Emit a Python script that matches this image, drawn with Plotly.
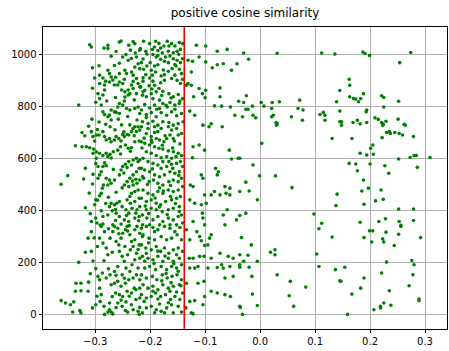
import plotly.graph_objects as go

title_text = "positive cosine similarity"
threshold = -0.138
x_ticks = [-0.3, -0.2, -0.1, 0.0, 0.1, 0.2, 0.3]
y_ticks = [0, 200, 400, 600, 800, 1000]

# (cosine similarity, index) pairs
upper_band = [
    (-0.310,1038),(-0.307,1029),(-0.277,1036),(-0.277,1023),(-0.256,1048),(-0.253,1052),(-0.231,1050),(-0.228,1042),
    (-0.239,1036),(-0.236,1017),(-0.219,1017),(-0.271,994),(-0.250,991),(-0.240,978),(-0.234,985),(-0.225,991),
    (-0.222,965),(-0.228,952),(-0.219,946),(-0.246,940),(-0.243,927),(-0.277,940),(-0.274,927),(-0.256,927),
    (-0.234,933),(-0.231,921),(-0.301,910),(-0.292,921),(-0.286,910),(-0.271,914),(-0.268,902),(-0.274,895),
    (-0.265,883),(-0.292,889),(-0.283,883),(-0.256,895),(-0.250,889),(-0.259,883),(-0.225,908),(-0.222,889),
    (-0.234,883),(-0.219,876),(-0.252,864),(-0.246,857),(-0.240,864),(-0.231,870),(-0.240,845),(-0.237,850),
    (-0.246,837),(-0.225,850),(-0.283,864),(-0.286,845),(-0.295,850),(-0.292,831),(-0.289,806),(-0.286,780),
    (-0.283,770),(-0.330,806),(-0.256,812),(-0.250,806),(-0.259,799),(-0.243,793),(-0.271,787),(-0.265,780),
    (-0.274,768),(-0.256,774),(-0.262,778),(-0.237,787),(-0.228,793),(-0.222,799),(-0.219,774),(-0.271,749),
    (-0.237,730),(-0.252,730),
    (-0.212,1051),(-0.218,1023),(-0.208,1013),(-0.201,1042),(-0.196,1020),(-0.190,1051),(-0.192,1029),(-0.186,1016),
    (-0.195,1000),(-0.189,991),(-0.181,1025),(-0.175,1033),(-0.178,1007),(-0.172,991),(-0.166,1033),(-0.161,1042),
    (-0.155,1033),(-0.147,1046),(-0.141,1042),(-0.167,1013),(-0.158,1007),(-0.151,1013),(-0.145,1020),(-0.141,984),
    (-0.145,969),(-0.151,978),(-0.158,984),(-0.164,995),(-0.167,969),(-0.174,974),(-0.181,982),(-0.186,961),
    (-0.192,956),(-0.200,969),(-0.206,956),(-0.212,944),(-0.216,969),(-0.208,923),(-0.201,910),(-0.195,898),
    (-0.213,898),(-0.217,876),(-0.210,863),(-0.202,880),(-0.192,882),(-0.184,870),(-0.180,918),(-0.174,923),
    (-0.167,936),(-0.160,946),(-0.153,956),(-0.147,944),(-0.143,927),(-0.155,921),(-0.161,908),(-0.151,901),
    (-0.145,889),(-0.141,905),(-0.174,901),(-0.181,892),(-0.190,933),(-0.198,940),(-0.214,844),(-0.207,838),
    (-0.198,850),(-0.189,857),(-0.177,859),(-0.166,850),(-0.158,838),(-0.149,847),(-0.141,831),(-0.147,812),
    (-0.155,806),(-0.164,816),(-0.169,799),(-0.177,812),(-0.183,793),(-0.192,806),(-0.201,795),(-0.210,808),
    (-0.216,787),(-0.207,770),(-0.198,777),(-0.189,761),(-0.180,777),(-0.170,767),(-0.161,780),(-0.152,765),
    (-0.143,774),(-0.140,742),(-0.149,735),(-0.158,729),(-0.166,739),(-0.177,742),(-0.186,729),(-0.195,744),
    (-0.204,735),(-0.214,742),(-0.183,825),(-0.195,831),
]

middle_band = [
    (-0.324,701),(-0.319,688),(-0.307,704),(-0.304,685),(-0.301,668),(-0.298,691),(-0.293,691),(-0.286,704),
    (-0.283,685),(-0.280,672),(-0.273,723),(-0.274,678),(-0.271,665),(-0.265,672),(-0.262,685),(-0.257,678),
    (-0.253,668),(-0.250,693),(-0.247,685),(-0.242,693),(-0.239,691),(-0.234,704),(-0.231,716),(-0.228,723),
    (-0.225,704),(-0.222,723),(-0.219,710),(-0.220,668),(-0.228,665),(-0.234,642),(-0.240,640),(-0.245,653),
    (-0.254,646),(-0.259,633),(-0.267,627),(-0.273,617),(-0.280,621),(-0.277,608),(-0.286,612),(-0.292,621),
    (-0.298,627),(-0.304,621),(-0.336,650),(-0.324,646),(-0.316,646),(-0.310,642),(-0.303,637),(-0.298,602),
    (-0.299,582),(-0.295,570),(-0.286,570),(-0.280,573),(-0.289,550),(-0.292,538),(-0.295,525),(-0.280,525),
    (-0.274,518),(-0.277,499),(-0.271,506),(-0.265,518),(-0.256,538),(-0.253,557),(-0.250,570),(-0.245,579),
    (-0.242,566),(-0.239,589),(-0.234,576),(-0.231,595),(-0.225,602),(-0.222,589),(-0.219,595),(-0.220,563),
    (-0.225,550),(-0.231,538),(-0.237,525),(-0.242,512),(-0.247,499),(-0.239,493),(-0.231,499),(-0.224,506),
    (-0.219,518),(-0.222,480),(-0.228,474),(-0.234,467),(-0.237,455),(-0.242,442),(-0.236,429),(-0.228,436),
    (-0.220,448),(-0.219,416),(-0.224,404),(-0.233,410),(-0.239,391),(-0.244,404),(-0.251,416),(-0.256,436),
    (-0.261,429),(-0.265,423),(-0.271,429),(-0.274,416),(-0.269,400),(-0.262,391),(-0.256,378),(-0.247,365),
    (-0.239,359),(-0.228,372),(-0.220,378),(-0.277,384),(-0.286,378),(-0.289,400),(-0.292,458),(-0.289,467),
    (-0.287,487),(-0.285,499),(-0.299,442),(-0.301,423),(-0.299,372),(-0.297,353),(-0.307,359),(-0.286,349),
    (-0.268,346),(-0.253,349),(-0.318,563),(-0.321,522),(-0.304,540),(-0.350,535),(-0.362,502),
    (-0.216,723),(-0.204,716),(-0.192,723),(-0.186,704),(-0.180,716),(-0.167,723),(-0.161,710),(-0.152,716),
    (-0.207,697),(-0.198,685),(-0.189,678),(-0.183,672),(-0.175,665),(-0.170,678),(-0.164,691),(-0.158,678),
    (-0.149,691),(-0.143,697),(-0.216,665),(-0.210,659),(-0.201,653),(-0.192,646),(-0.184,640),(-0.177,637),
    (-0.167,630),(-0.158,627),(-0.149,621),(-0.143,612),(-0.153,608),(-0.161,602),(-0.170,608),(-0.180,604),
    (-0.189,612),(-0.198,621),(-0.207,627),(-0.213,602),(-0.204,589),(-0.195,582),(-0.186,576),(-0.180,563),
    (-0.170,570),(-0.161,579),(-0.152,582),(-0.145,589),(-0.141,570),(-0.147,550),(-0.155,544),(-0.164,550),
    (-0.174,538),(-0.183,531),(-0.192,538),(-0.201,550),(-0.210,557),(-0.216,563),(-0.212,525),(-0.202,512),
    (-0.194,518),(-0.186,506),(-0.177,499),(-0.166,512),(-0.158,518),(-0.149,512),(-0.143,525),(-0.141,493),
    (-0.149,480),(-0.158,474),(-0.167,480),(-0.177,467),(-0.186,474),(-0.195,461),(-0.204,467),(-0.213,480),
    (-0.216,448),(-0.207,436),(-0.198,442),(-0.189,429),(-0.181,423),(-0.172,436),(-0.161,442),(-0.152,448),
    (-0.145,455),(-0.147,416),(-0.158,410),(-0.167,404),(-0.178,397),(-0.189,404),(-0.198,410),(-0.207,404),
    (-0.214,384),(-0.206,372),(-0.195,365),(-0.186,378),(-0.177,359),(-0.167,372),(-0.158,365),(-0.149,378),
    (-0.143,384),(-0.141,353),(-0.152,346),(-0.164,346),(-0.183,346),(-0.201,346),(-0.214,346),(-0.198,672),
    (-0.166,589),
]

lower_band = [
    (-0.307,320),(-0.313,295),(-0.292,295),(-0.307,244),(-0.330,202),(-0.295,148),(-0.292,135),(-0.335,122),
    (-0.326,122),(-0.312,126),(-0.336,91),(-0.326,93),(-0.313,91),(-0.292,103),(-0.289,78),(-0.362,55),
    (-0.354,46),(-0.345,39),(-0.339,50),(-0.341,11),(-0.328,17),(-0.326,8),(-0.299,39),(-0.283,2),
    (-0.277,11),(-0.271,11),(-0.268,4),(-0.274,20),(-0.245,17),(-0.241,11),(-0.231,20),(-0.220,2),
    (-0.222,14),(-0.219,29),
    (-0.289,340),(-0.283,320),(-0.286,276),(-0.280,257),(-0.277,231),(-0.273,295),(-0.268,320),(-0.265,340),
    (-0.259,333),(-0.262,282),(-0.257,269),(-0.253,295),(-0.250,314),(-0.245,327),(-0.242,340),(-0.237,308),
    (-0.234,282),(-0.228,327),(-0.224,340),(-0.219,314),(-0.256,244),(-0.251,225),(-0.247,206),(-0.241,231),
    (-0.236,250),(-0.231,263),(-0.225,237),(-0.220,269),(-0.219,218),(-0.228,212),(-0.233,193),(-0.222,180),
    (-0.237,167),(-0.244,180),(-0.251,154),(-0.259,186),(-0.265,167),(-0.273,154),(-0.280,142),(-0.271,116),
    (-0.265,122),(-0.259,129),(-0.253,110),(-0.245,122),(-0.239,135),(-0.231,142),(-0.225,154),(-0.219,135),
    (-0.219,103),(-0.226,97),(-0.234,84),(-0.242,91),(-0.250,71),(-0.256,78),(-0.263,84),(-0.269,71),
    (-0.259,46),(-0.251,33),(-0.244,50),(-0.234,39),(-0.226,59),(-0.219,65),(-0.274,46),
    (-0.216,333),(-0.207,340),(-0.195,336),(-0.186,327),(-0.174,340),(-0.164,333),(-0.155,320),(-0.146,336),
    (-0.213,308),(-0.202,295),(-0.192,289),(-0.180,301),(-0.170,289),(-0.161,295),(-0.151,308),(-0.143,289),
    (-0.216,269),(-0.208,257),(-0.198,250),(-0.189,263),(-0.181,244),(-0.174,257),(-0.166,237),(-0.158,250),
    (-0.149,257),(-0.141,244),(-0.214,225),(-0.204,218),(-0.195,212),(-0.186,225),(-0.177,206),(-0.167,218),
    (-0.158,206),(-0.147,218),(-0.143,193),(-0.152,180),(-0.161,186),(-0.170,174),(-0.180,186),(-0.190,174),
    (-0.201,186),(-0.210,180),(-0.216,154),(-0.207,142),(-0.196,148),(-0.188,135),(-0.178,154),(-0.169,142),
    (-0.160,148),(-0.151,154),(-0.143,135),(-0.147,116),(-0.158,110),(-0.167,103),(-0.177,116),(-0.186,97),
    (-0.195,110),(-0.204,103),(-0.213,116),(-0.216,78),(-0.207,65),(-0.198,71),(-0.190,84),(-0.181,71),
    (-0.172,78),(-0.163,59),(-0.155,71),(-0.146,59),(-0.141,84),(-0.149,33),(-0.161,39),(-0.170,27),
    (-0.180,14),(-0.189,20),(-0.198,33),(-0.207,27),(-0.214,8),(-0.192,8),(-0.174,8),(-0.158,8),
    (-0.143,11),(-0.183,42),(-0.164,91),(-0.152,231),(-0.192,320),(-0.210,206),
]

band_fill = [
    (-0.318,412),(-0.311,468),(-0.305,503),(-0.296,441),(-0.309,389),(-0.302,296),(-0.296,263),(-0.318,241),
    (-0.304,207),(-0.299,178),(-0.287,161),(-0.309,158),(-0.297,72),(-0.291,52),(-0.305,27),(-0.284,33),
    (-0.262,28),(-0.253,57),(-0.238,72),(-0.229,103),(-0.247,141),(-0.262,152),(-0.276,177),(-0.284,208),
    (-0.269,241),(-0.246,263),(-0.228,289),(-0.214,301),(-0.203,277),(-0.186,245),(-0.173,226),(-0.157,197),
    (-0.149,168),(-0.162,124),(-0.179,131),(-0.195,91),(-0.211,52),(-0.186,61),(-0.167,47),(-0.152,88),
    (-0.144,112),(-0.171,159),(-0.193,198),(-0.207,236),(-0.222,251),(-0.241,322),(-0.257,312),(-0.276,331),
    (-0.291,345),(-0.263,363),(-0.243,382),(-0.226,391),(-0.209,418),(-0.191,449),(-0.176,476),(-0.163,455),
    (-0.154,428),(-0.147,397),(-0.169,386),(-0.183,415),(-0.203,389),(-0.221,362),(-0.238,343),(-0.263,405),
    (-0.281,428),(-0.276,452),(-0.262,471),(-0.251,488),(-0.232,514),(-0.214,532),(-0.196,561),(-0.177,589),
    (-0.159,563),(-0.148,536),(-0.163,497),(-0.183,488),(-0.205,501),(-0.226,521),(-0.248,545),(-0.267,559),
    (-0.283,584),(-0.271,603),(-0.254,618),(-0.236,629),(-0.215,641),(-0.197,663),(-0.178,652),(-0.159,641),
    (-0.146,657),(-0.156,668),(-0.173,688),(-0.192,701),(-0.211,679),(-0.229,688),(-0.248,703),(-0.264,711),
    (-0.281,732),(-0.296,712),(-0.312,725),(-0.306,752),(-0.293,741),(-0.277,761),(-0.258,752),(-0.241,762),
    (-0.224,749),(-0.207,758),(-0.188,790),(-0.171,805),(-0.155,790),(-0.146,822),(-0.162,833),(-0.179,843),
    (-0.197,868),(-0.213,857),(-0.229,826),(-0.247,822),(-0.263,835),(-0.279,822),(-0.299,817),(-0.305,871),
    (-0.281,898),(-0.263,913),(-0.247,905),(-0.231,897),(-0.213,911),(-0.196,921),(-0.176,941),(-0.155,962),
    (-0.148,1001),(-0.169,1051),(-0.184,1043),(-0.206,1002),(-0.227,1006),(-0.244,1000),(-0.262,1012),(-0.284,1025),
    (-0.293,957),(-0.305,949),(-0.265,958),(-0.256,967),(-0.213,983),(-0.186,996),
]

sparse_middle = [
    (-0.116,1036),(-0.099,1033),(-0.078,1013),(-0.060,1020),(-0.131,978),(-0.123,974),(-0.111,991),(-0.099,972),
    (-0.087,949),(-0.078,961),(-0.067,965),(-0.052,940),(-0.042,965),(-0.125,933),(-0.131,889),(-0.125,882),
    (-0.111,870),(-0.099,863),(-0.121,838),(-0.105,850),(-0.100,834),(-0.073,872),(-0.073,838),(-0.070,802),
    (-0.083,803),(-0.054,799),(-0.046,767),(-0.039,821),(-0.104,729),(-0.089,734),(-0.134,882),(-0.119,767),
    (-0.128,783),
    (-0.122,646),(-0.111,653),(-0.101,633),(-0.093,723),(-0.069,723),(-0.056,633),(-0.052,599),(-0.040,602),
    (-0.123,604),(-0.081,563),(-0.076,550),(-0.078,538),(-0.107,538),(-0.104,525),(-0.127,499),(-0.122,493),
    (-0.064,493),(-0.055,487),(-0.083,474),(-0.073,461),(-0.089,461),(-0.101,461),(-0.128,442),(-0.119,429),
    (-0.107,423),(-0.098,429),(-0.062,467),(-0.055,461),(-0.060,404),(-0.105,391),(-0.104,372),(-0.122,359),
    (-0.101,346),(-0.037,382),(-0.043,365),(-0.064,346),(-0.067,384),
    (-0.134,327),(-0.115,320),(-0.110,301),(-0.128,289),(-0.107,285),(-0.092,295),(-0.089,308),(-0.095,269),
    (-0.101,267),(-0.073,237),(-0.058,225),(-0.049,218),(-0.037,231),(-0.129,218),(-0.122,218),(-0.110,225),
    (-0.102,225),(-0.089,218),(-0.119,180),(-0.128,180),(-0.113,186),(-0.095,180),(-0.078,182),(-0.067,180),
    (-0.055,186),(-0.037,193),(-0.134,122),(-0.113,122),(-0.102,129),(-0.089,91),(-0.078,84),(-0.064,78),
    (-0.054,71),(-0.128,52),(-0.119,55),(-0.104,39),(-0.125,8),(-0.122,4),(-0.037,33),(-0.135,27),
    (-0.101,71),(-0.064,142),(-0.049,148),(-0.070,193),
    (-0.030,1006),(-0.021,982),(0.031,1005),(-0.025,842),(-0.030,816),(-0.014,802),(-0.026,790),(-0.022,790),
    (0.002,816),(0.007,802),(0.022,816),(0.035,819),(0.021,793),(0.072,825),(0.078,787),(0.069,793),
    (-0.032,761),(-0.013,767),(-0.008,757),(0.024,767),(0.021,761),(0.057,761),(0.029,739),(0.031,735),
    (0.077,748),
    (0.003,659),(-0.037,602),(-0.013,576),(-0.001,534),(0.028,534),(-0.026,510),(-0.037,474),(-0.020,476),
    (0.058,489),(-0.005,442),(-0.026,391),(0.098,388),
    (-0.034,297),(-0.016,269),(-0.022,229),(-0.030,206),(-0.020,183),(-0.005,206),(-0.015,148),(-0.037,183),
    (0.019,241),(0.027,250),(0.027,231),(0.031,154),(0.055,129),(0.083,107),(-0.014,80),(0.053,74),
    (0.061,33),(-0.005,36),(-0.036,29),(-0.032,2),
]

right_cluster = [
    (0.112,1006),(0.136,1002),(0.145,862),(0.109,770),(0.115,778),(0.118,767),(0.139,819),(0.145,783),
    (0.118,748),(0.145,742),
    (0.187,1010),(0.191,1004),(0.199,997),(0.274,1008),(0.254,969),(0.162,905),(0.163,882),(0.163,838),
    (0.170,831),(0.174,829),(0.179,819),(0.183,831),(0.188,850),(0.221,842),(0.225,835),(0.252,821),
    (0.225,799),(0.194,787),(0.193,780),(0.209,757),(0.215,751),(0.221,739),(0.229,744),(0.224,732),
    (0.251,752),(0.262,732),(0.169,739),(0.177,748),(0.182,734),(0.194,739),(0.148,742),
    (0.131,678),(0.030,729),(0.140,464),(0.138,420),(0.112,352),
    (0.148,729),(0.223,729),(0.264,729),(0.167,678),(0.230,701),(0.235,704),(0.237,697),(0.245,701),
    (0.253,697),(0.259,691),(0.222,681),(0.279,685),(0.205,653),(0.201,640),(0.182,621),(0.194,614),
    (0.206,617),(0.252,599),(0.273,605),(0.280,612),(0.284,612),(0.309,605),(0.162,582),(0.174,580),
    (0.200,580),(0.227,573),(0.286,567),(0.177,554),(0.234,544),(0.188,518),(0.197,487),(0.185,476),
    (0.220,480),(0.189,425),(0.210,438),(0.224,444),(0.252,407),(0.279,407),(0.182,356),(0.216,359),
    (0.228,369),(0.253,359),(0.279,363),(0.256,344),
    (0.107,331),(0.131,299),(0.103,234),(0.107,186),(0.137,174),(0.147,129),
    (0.199,323),(0.205,323),(0.229,318),(0.256,340),(0.189,297),(0.203,280),(0.223,292),(0.225,280),
    (0.252,310),(0.292,297),(0.244,267),(0.154,183),(0.145,131),(0.189,142),(0.230,203),(0.221,161),
    (0.276,209),(0.280,193),(0.278,154),(0.271,112),(0.183,103),(0.167,80),(0.235,93),(0.225,46),
    (0.219,33),(0.219,27),(0.207,20),(0.238,37),(0.289,61),(0.289,55),(0.159,2),
]

points = upper_band + middle_band + lower_band + band_fill + sparse_middle + right_cluster
xs = [p[0] for p in points]
ys = [p[1] for p in points]

font = dict(family="DejaVu Sans", size=10, color="black")

fig = go.Figure(
    go.Scatter(
        x=xs, y=ys, mode="markers",
        marker=dict(color="#008000", size=3.6, line=dict(width=0)),
        hoverinfo="skip",
    )
)
fig.add_shape(
    type="line", xref="x", yref="paper",
    x0=threshold, x1=threshold, y0=0, y1=1,
    line=dict(color="red", width=1.6),
)

axis_common = dict(
    showgrid=True, gridcolor="#b0b0b0", gridwidth=0.8,
    showline=True, linecolor="black", linewidth=0.8, mirror=True,
    ticks="outside", ticklen=3.5, tickwidth=0.8, tickcolor="black",
    zeroline=False, tickfont=font,
)

fig.update_layout(
    width=449, height=351,
    margin=dict(l=43, r=2, t=27, b=22),
    plot_bgcolor="white", paper_bgcolor="white",
    showlegend=False,
    font=font,
    title=dict(
        text=title_text, x=0.5, xref="paper", xanchor="center",
        y=1 - 13 / 351, yref="container", yanchor="middle",
        font=dict(family="DejaVu Sans", size=12, color="black"),
    ),
    xaxis=dict(range=[-0.395, 0.340], tickvals=x_ticks, tickformat=".1f", **axis_common),
    yaxis=dict(range=[-54, 1106], tickvals=y_ticks, **axis_common),
)

fig.write_html("out.html")
